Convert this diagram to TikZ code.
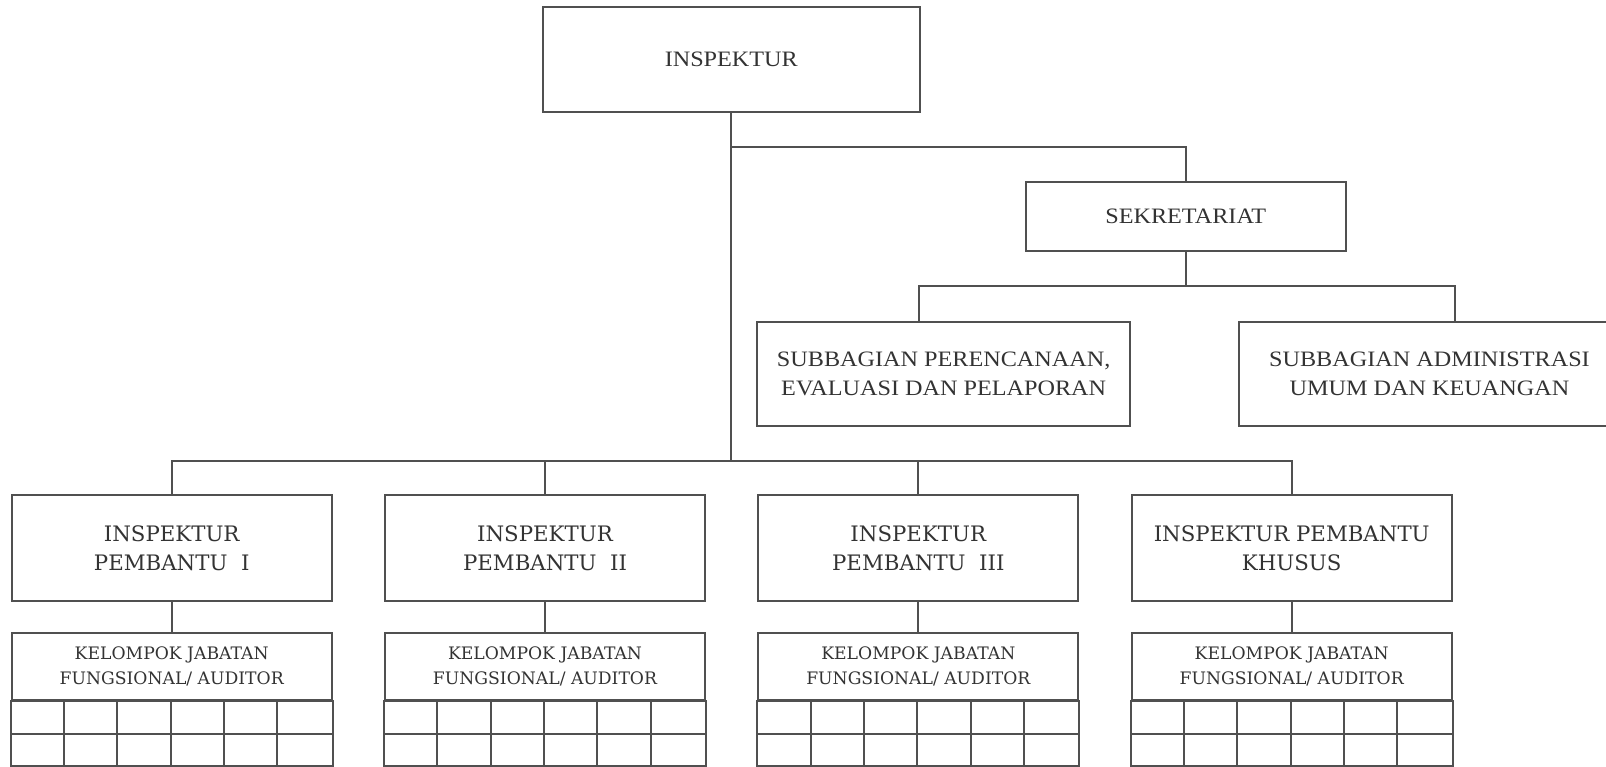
\documentclass[tikz,border=0pt]{standalone}
\usepackage{fontspec}
\newfontfamily\tfont[FakeStretch=1.1]{Liberation Serif}
\newfontfamily\cfont{DejaVu Serif}
\definecolor{ink}{HTML}{505050}
\definecolor{txt}{HTML}{333333}
\tikzset{
  box/.style={draw=ink, line width=2pt, rectangle, inner sep=0pt, align=center, text=txt},
  conn/.style={draw=ink, line width=2pt},
  ttext/.style={font=\tfont\fontsize{22}{29}\selectfont},
  ptext/.style={font=\cfont\fontsize{21.3}{28.5}\selectfont},
  ktext/.style={font=\cfont\fontsize{17.2}{25}\selectfont},
}
\begin{document}
\begin{tikzpicture}[x=1pt,y=-1pt]
\useasboundingbox (0,0) rectangle (1606,766);
\clip (0,0) rectangle (1606,766);
\fill[white] (0,0) rectangle (1606,766);

% top level
\node[box, ttext, minimum width=377pt, minimum height=105pt] (insp) at (731.3,59.2) {INSPEKTUR};
\node[box, ttext, minimum width=320pt, minimum height=69pt] (sek) at (1185.7,216.2) {SEKRETARIAT};
\node[box, ttext, minimum width=373pt, minimum height=104pt] (subP) at (943.7,373.8) {SUBBAGIAN PERENCANAAN,\\EVALUASI DAN PELAPORAN};
\node[box, ttext, minimum width=381pt, minimum height=104pt] (subA) at (1429.5,373.8) {SUBBAGIAN ADMINISTRASI\\UMUM DAN KEUANGAN};

% pembantu boxes
\foreach \i/\x/\t in {1/171.7/{INSPEKTUR\\PEMBANTU~~I},2/545/{INSPEKTUR\\PEMBANTU~~II},3/918.3/{INSPEKTUR\\PEMBANTU~~III},4/1291.7/{INSPEKTUR PEMBANTU\\KHUSUS}}{
  \node[box, ptext, minimum width=320pt, minimum height=106pt] (p\i) at (\x,548) {\t};
  \node[box, ktext, minimum width=320pt, minimum height=67pt] (k\i) at (\x,666.5) {\raisebox{-3pt}{\parbox{320pt}{\centering KELOMPOK JABATAN\\FUNGSIONAL/ AUDITOR}}};
  \draw[conn] (k\i.south west) rectangle ([yshift=-65pt]k\i.south east);
  \draw[conn] ([yshift=-32.5pt]k\i.south west) -- ([yshift=-32.5pt]k\i.south east);
  \foreach \c in {1,...,5}{
    \draw[conn] ([xshift=\c*53.33pt]k\i.south west) -- ([xshift=\c*53.33pt,yshift=-65pt]k\i.south west);
  }
  \draw[conn] (p\i.south) -- (k\i.north);
}

% connectors
\coordinate (j1) at (insp.south |- 0,146.5);
\coordinate (bus) at (insp.south |- 0,460.5);
\draw[conn] (insp.south) -- (bus);
\draw[conn] (j1) -| (sek.north);
\coordinate (j2) at (sek.south |- 0,286.3);
\draw[conn] (sek.south) -- (j2);
\path (subP.north) ++(-24.7,0) coordinate (spn);
\path (subA.north) ++(25.5,0) coordinate (san);
\draw[conn] (spn) |- (j2) -| (san);
\draw[conn] (p1.north) |- (bus) -| (p4.north);
\draw[conn] (p2.north) -- (p2.north |- bus);
\draw[conn] (p3.north) -- (p3.north |- bus);
\end{tikzpicture}
\end{document}
